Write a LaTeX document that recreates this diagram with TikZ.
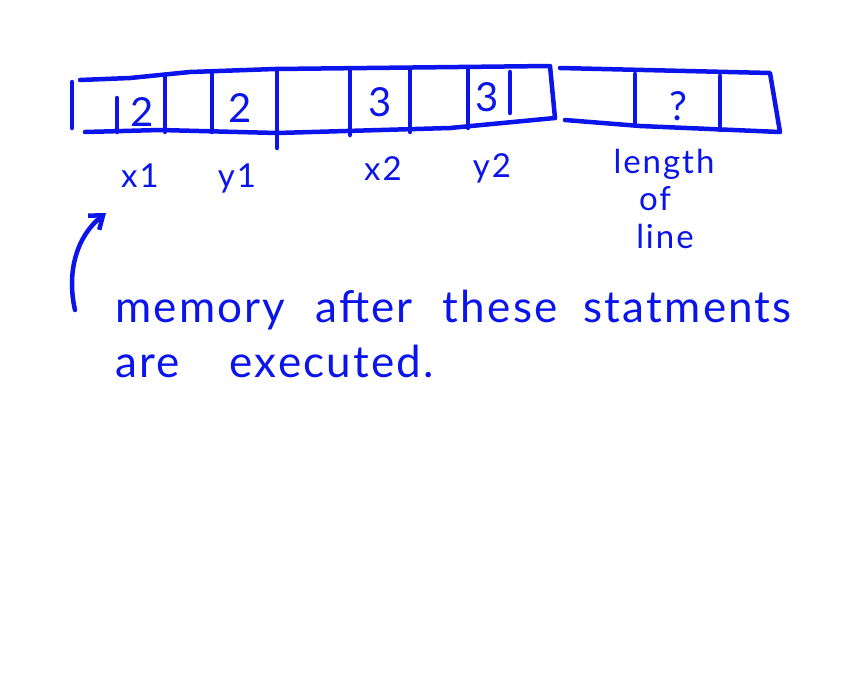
\documentclass[tikz,border=0pt]{standalone}
\usepackage{fontspec}
\setmainfont{Lato}
\usetikzlibrary{arrows.meta}
\definecolor{inkcol}{RGB}{10,20,235}

\begin{document}
\begin{tikzpicture}[
			x=1pt, y=-1pt,
			line cap=round,
			line join=round,
			ink/.style={
				draw=inkcol,
				line width=4.5pt
			},
			cellval/.style={
				text=inkcol,
				inner sep=0pt,
				font=\fontsize{40}{40}\selectfont
			},
			varname/.style={
				text=inkcol,
				inner sep=0pt,
				font=\fontsize{33}{33}\selectfont\addfontfeature{LetterSpace=6}
			},
			note/.style={
				text=inkcol,
				inner sep=0pt,
				anchor=base west,
				font=\fontsize{44}{44}\selectfont\addfontfeature{LetterSpace=5}
			}
			]
			\useasboundingbox (0,0) rectangle (860,675);
			
			% Memory strip
			\draw[ink] (80,80) -- (130,78) -- (190,72) -- (275,69) -- (550,66) -- (555,118);
			\draw[ink] (85,132) -- (160,130) -- (277,133) -- (450,128) -- (555,118);
			\draw[ink] (560,68) -- (770,73) -- (780,132) -- (640,126) -- (565,120);
			\draw[ink] (72,82) -- (72,128);
			\foreach \x/\top/\bot in {117/98/132, 165/76/132, 212/74/132, 277/70/148,
				350/69/135, 410/68/132, 468/67/128, 510/72/113, 635/74/125, 720/76/130}
				\draw[ink] (\x,\top) -- (\x,\bot);
			
			% Values
			\node[cellval] (v1) at (142,112) {2};
			\node[cellval] (v2) at (240,108) {2};
			\node[cellval] (v3) at (380,102) {3};
			\node[cellval] (v4) at (487,97) {3};
			\node[cellval] (v5) at (678,106) {?};
			
			% Variable names
			\node[varname] (x1) at (140,176) {x1};
			\node[varname] (y1) at (237,178) {y1};
			\node[varname] (x2) at (383,169) {x2};
			\node[varname] (y2) at (492,168) {y2};
			\node[varname] (len) at (664,164) {length};
			\node[varname] (of) at (655,199) {of};
			\node[varname] (lin) at (665,236) {line};
			
			% Note
			\node[note] (note1) at (115,322) {memory\hspace{30pt}after\hspace{30pt}these\hspace{26pt}statments};
			\node[note] (note2) at (115,377) {are\hspace{50pt}executed.};
			\coordinate (tail) at (75,310);
			\coordinate (tip) at (106,213);
			\draw[ink, -{Straight Barb[length=12pt,width=18pt]}] (tail) .. controls (66,270) and (78,235) .. (tip);
		\end{tikzpicture}
\end{document}
